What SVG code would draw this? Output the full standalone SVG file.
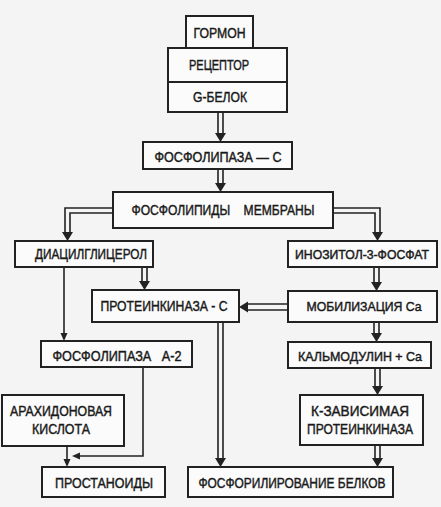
<svg xmlns="http://www.w3.org/2000/svg" xmlns:xlink="http://www.w3.org/1999/xlink" width="441" height="507" viewBox="0 0 441 507">
<style>
.bg{fill:#f4f4f4}
.box{fill:#fbfbfb;stroke:#222;stroke-width:2}
.t{font-family:"Liberation Sans",Arial,sans-serif;font-size:15px;fill:#1a1a1a;stroke:#1a1a1a;stroke-width:0.45;text-anchor:middle;font-weight:normal}
.s{font-size:13.5px}
.xs{font-size:12.5px}
.ln{fill:none;stroke:#222;stroke-width:1.6}
.ah{fill:#222}
</style>
<defs>
<polygon id="hd" points="-5.5,-9 5.5,-9 0,0" class="ah"/>
<polygon id="hs" points="-3.5,-8 3.5,-8 0,0" class="ah"/>
</defs>
<rect class="bg" x="0" y="0" width="441" height="507"/>
<g id="connectors">
<path class="ln" d="M218,112V134M223,112V134"/>
<use xlink:href="#hd" transform="translate(220.5,142)"/>
<path class="ln" d="M218,169V184M223,169V184"/>
<use xlink:href="#hd" transform="translate(220.5,192)"/>
<path class="ln" d="M113,208H65V232M113,213H70V232"/>
<use xlink:href="#hd" transform="translate(67.5,241)"/>
<path class="ln" d="M333,208H380V232M333,213H375V232"/>
<use xlink:href="#hd" transform="translate(377.5,241)"/>
<path class="ln" d="M142,267V282M147,267V282"/>
<use xlink:href="#hd" transform="translate(144.5,290)"/>
<path class="ln" d="M374,267V283M379,267V283"/>
<use xlink:href="#hd" transform="translate(376.5,291)"/>
<path class="ln" d="M288,304H248M288,310H248"/>
<use xlink:href="#hd" transform="translate(239,307) rotate(90)"/>
<path class="ln" d="M64,267V334"/>
<use xlink:href="#hs" transform="translate(64,341)"/>
<path class="ln" d="M218,322V458M223,322V458"/>
<use xlink:href="#hd" transform="translate(220.5,467)"/>
<path class="ln" d="M374,322V334M379,322V334"/>
<use xlink:href="#hd" transform="translate(376.5,342)"/>
<path class="ln" d="M375,368V387M380,368V387"/>
<use xlink:href="#hd" transform="translate(377.5,395)"/>
<path class="ln" d="M375,445V459M380,445V459"/>
<use xlink:href="#hd" transform="translate(377.5,467)"/>
<path class="ln" d="M67,446V460"/>
<use xlink:href="#hs" transform="translate(67,467)"/>
<path class="ln" d="M143,367V456H79"/>
<use xlink:href="#hs" transform="translate(72,456) rotate(90)"/>
</g>
<g id="n-gormon"><rect class="box" x="186" y="16" width="67" height="32"/><text class="t" x="219.5" y="38" textLength="52" lengthAdjust="spacingAndGlyphs">ГОРМОН</text></g>
<g id="n-receptor"><rect class="box" x="168" y="48" width="119" height="34"/><text class="t" x="219" y="70" textLength="60" lengthAdjust="spacingAndGlyphs">РЕЦЕПТОР</text></g>
<g id="n-gbelok"><rect class="box" x="168" y="82" width="119" height="30"/><text class="t" x="220" y="102" textLength="54" lengthAdjust="spacingAndGlyphs">G-БЕЛОК</text></g>
<g id="n-plc"><rect class="box" x="143" y="142" width="149" height="27"/><text class="t" x="218" y="162" textLength="127" lengthAdjust="spacingAndGlyphs">ФОСФОЛИПАЗА — С</text></g>
<g id="n-phospholipids"><rect class="box" x="113" y="192" width="220" height="36"/><text class="t" x="223" y="215" textLength="183" lengthAdjust="spacingAndGlyphs" xml:space="preserve">ФОСФОЛИПИДЫ    МЕМБРАНЫ</text></g>
<g id="n-dag"><rect class="box" x="15" y="241" width="138" height="26"/><text class="t" x="91" y="259" textLength="112" lengthAdjust="spacingAndGlyphs">ДИАЦИЛГЛИЦЕРОЛ</text></g>
<g id="n-ip3"><rect class="box" x="288" y="241" width="149" height="26"/><text class="t xs" x="362" y="259" textLength="134" lengthAdjust="spacingAndGlyphs">ИНОЗИТОЛ-3-ФОСФАТ</text></g>
<g id="n-pkc"><rect class="box" x="92" y="290" width="147" height="32"/><text class="t" x="164" y="311" textLength="127" lengthAdjust="spacingAndGlyphs">ПРОТЕИНКИНАЗА - С</text></g>
<g id="n-ca"><rect class="box" x="288" y="291" width="149" height="31"/><text class="t s" x="364" y="311" textLength="115" lengthAdjust="spacingAndGlyphs">МОБИЛИЗАЦИЯ Ca</text></g>
<g id="n-pla2"><rect class="box" x="41" y="341" width="151" height="26"/><text class="t" x="117" y="361" textLength="129" lengthAdjust="spacingAndGlyphs" xml:space="preserve">ФОСФОЛИПАЗА   А-2</text></g>
<g id="n-calm"><rect class="box" x="288" y="342" width="143" height="26"/><text class="t s" x="360" y="361" textLength="124" lengthAdjust="spacingAndGlyphs">КАЛЬМОДУЛИН + Ca</text></g>
<g id="n-arach"><rect class="box" x="2" y="395" width="122" height="51"/><text class="t" x="61" y="416" textLength="102" lengthAdjust="spacingAndGlyphs">АРАХИДОНОВАЯ</text><text class="t" x="61" y="434" textLength="58" lengthAdjust="spacingAndGlyphs">КИСЛОТА</text></g>
<g id="n-kdep"><rect class="box" x="300" y="395" width="123" height="50"/><text class="t" x="360" y="416" textLength="98" lengthAdjust="spacingAndGlyphs">К-ЗАВИСИМАЯ</text><text class="t" x="360" y="434" textLength="106" lengthAdjust="spacingAndGlyphs">ПРОТЕИНКИНАЗА</text></g>
<g id="n-prost"><rect class="box" x="42" y="467" width="123" height="30"/><text class="t" x="104" y="488" textLength="98" lengthAdjust="spacingAndGlyphs">ПРОСТАНОИДЫ</text></g>
<g id="n-phosph"><rect class="box" x="188" y="467" width="205" height="30"/><text class="t" x="292" y="488" textLength="187" lengthAdjust="spacingAndGlyphs">ФОСФОРИЛИРОВАНИЕ БЕЛКОВ</text></g>
</svg>
